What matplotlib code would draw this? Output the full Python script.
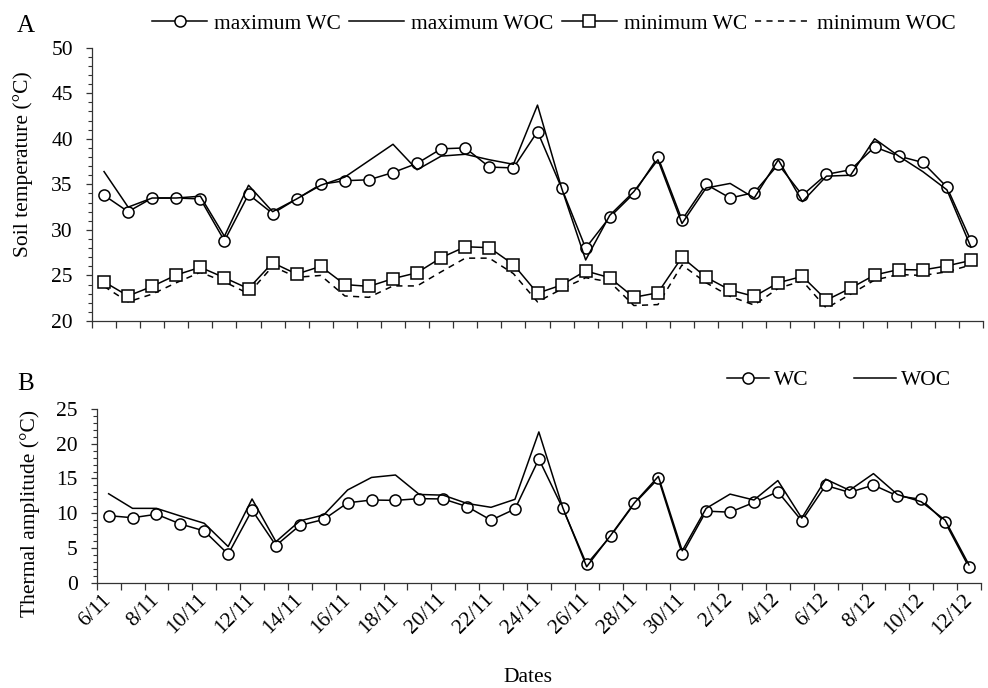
import numpy as np
import matplotlib
matplotlib.use("Agg")
import matplotlib.pyplot as plt
from matplotlib.lines import Line2D

plt.rcParams['font.family'] = ['Liberation Serif', 'DejaVu Serif']

# daily dates, 6 Nov - 12 Dec
dates = ['6/11', '7/11', '8/11', '9/11', '10/11', '11/11', '12/11', '13/11', '14/11',
         '15/11', '16/11', '17/11', '18/11', '19/11', '20/11', '21/11', '22/11', '23/11',
         '24/11', '25/11', '26/11', '27/11', '28/11', '29/11', '30/11', '1/12', '2/12',
         '3/12', '4/12', '5/12', '6/12', '7/12', '8/12', '9/12', '10/12', '11/12', '12/12']

# panel A - soil temperature (C)
max_wc = [33.8, 32.0, 33.5, 33.5, 33.4, 28.8, 33.9, 31.8, 33.4, 35.0, 35.4, 35.5, 36.3,
          37.3, 38.9, 39.0, 36.9, 36.8, 40.8, 34.6, 28.0, 31.4, 34.0, 38.0, 31.1, 35.0,
          33.5, 34.1, 37.2, 33.8, 36.1, 36.6, 39.1, 38.1, 37.4, 34.7, 28.8]
max_woc = [36.4, 32.5, 33.5, 33.5, 33.7, 29.3, 34.9, 32.0, 33.4, 34.9, 35.8, 37.6, 39.4,
           36.6, 38.1, 38.3, 37.7, 37.2, 43.7, 34.6, 26.7, 31.6, 34.2, 37.7, 30.7, 34.6,
           35.1, 33.5, 37.7, 33.1, 35.9, 36.0, 40.0, 38.1, 36.4, 34.4, 28.1]
min_wc = [24.3, 22.75, 23.8, 25.05, 25.9, 24.75, 23.55, 26.4, 25.15, 26.0, 24.0, 23.8,
          24.65, 25.3, 26.95, 28.15, 28.05, 26.2, 23.05, 23.95, 25.5, 24.75, 22.6, 23.1,
          27.0, 24.8, 23.4, 22.7, 24.2, 24.9, 22.3, 23.6, 25.05, 25.65, 25.6, 26.05, 26.65]
min_woc = [23.8, 22.1, 22.95, 24.2, 25.35, 24.3, 23.0, 26.0, 24.8, 25.0, 22.75, 22.6,
           23.85, 23.85, 25.4, 26.9, 26.9, 25.2, 22.1, 23.5, 24.75, 24.3, 21.7, 21.8,
           26.15, 24.2, 22.7, 21.75, 23.6, 24.4, 21.4, 22.95, 24.5, 25.1, 25.0, 25.4, 26.15]

# panel B - thermal amplitude (C)
amp_wc = [9.65, 9.35, 9.85, 8.45, 7.45, 4.1, 10.45, 5.35, 8.25, 9.1, 11.5, 11.9, 11.85,
          12.1, 12.05, 10.95, 9.0, 10.6, 17.8, 10.7, 2.65, 6.7, 11.4, 15.0, 4.1, 10.3,
          10.15, 11.55, 13.1, 8.9, 14.0, 13.0, 14.05, 12.5, 12.0, 8.7, 2.2]
amp_woc = [12.8, 10.7, 10.7, 9.6, 8.55, 5.2, 12.05, 5.9, 8.9, 9.75, 13.35, 15.15, 15.5,
           12.7, 12.6, 11.4, 10.85, 12.0, 21.7, 10.8, 2.3, 6.8, 11.5, 15.3, 4.6, 10.7,
           12.75, 11.9, 14.7, 9.3, 14.9, 13.3, 15.7, 12.7, 11.65, 9.0, 2.55]

W, H = 988, 688
FS = 15.5
fig = plt.figure(figsize=(W / 100, H / 100), dpi=100)

def px_axes(left, top, right, bottom):
    return fig.add_axes([left / W, 1 - bottom / H, (right - left) / W, (bottom - top) / H])

axA = px_axes(92, 47.7, 983, 321)
axB = px_axes(96.7, 409, 981, 582.7)

x = np.arange(len(dates))
circ = dict(marker='o', markersize=8, markerfacecolor='white', markeredgecolor='black',
            markeredgewidth=1.1)
sq = dict(marker='s', markersize=8, markerfacecolor='white', markeredgecolor='black',
          markeredgewidth=1.1)
lw = 1.1

axA.plot(x, max_wc, color='black', lw=lw, zorder=3, **circ)
axA.plot(x, min_wc, color='black', lw=lw, zorder=3, **sq)
axA.plot(x, max_woc, color='black', lw=lw, zorder=4)
axA.plot(x, min_woc, color='black', lw=lw, dashes=(4, 3.5), zorder=2)

axB.plot(x, amp_wc, color='black', lw=lw, zorder=3, **circ)
axB.plot(x, amp_woc, color='black', lw=lw, zorder=4)

for ax, (lo, hi) in ((axA, (20, 50)), (axB, (0, 25))):
    ax.set_xlim(-0.5, len(dates) - 0.5)
    ax.set_ylim(lo, hi)
    ax.set_yticks(np.arange(lo, hi + 1, 5))
    ax.set_yticks(np.arange(lo, hi + 1, 1), minor=True)
    ax.set_xticks(np.arange(-0.5, len(dates), 1))
    ax.set_xticklabels([])
    ax.spines['top'].set_visible(False)
    ax.spines['right'].set_visible(False)
    for s in ('left', 'bottom'):
        ax.spines[s].set_linewidth(0.9)
        ax.spines[s].set_color('#333333')
    ax.tick_params(axis='y', which='major', direction='out', length=4.3, width=0.9,
                   color='#333333', labelsize=FS, pad=9.5)
    ax.tick_params(axis='y', which='minor', direction='out', length=3, width=0.8,
                   color='#333333')
    ax.tick_params(axis='x', which='major', direction='out', length=5, width=0.9,
                   color='#333333')

# date labels every second day, rotated
axB.set_xticks(x[::2], minor=True)
axB.set_xticklabels(dates[::2], minor=True, rotation=45, ha='right', va='center',
                    rotation_mode='anchor', fontsize=FS)
axB.tick_params(axis='x', which='minor', length=0, pad=10.5)

fig.text(23 / W, 1 - 164 / H, 'Soil temperature (°C)', rotation=90, ha='center',
         va='center', fontsize=FS)
fig.text(30 / W, 1 - 513 / H, 'Thermal amplitude (°C)', rotation=90, ha='center',
         va='center', fontsize=FS)
fig.text(528 / W, 1 - 678 / H, 'Dates', ha='center', va='center', fontsize=FS)
fig.text(17 / W, 1 - 32 / H, 'A', fontsize=18)
fig.text(17 / W, 1 - 390 / H, 'B', fontsize=18)

hA = [Line2D([], [], color='black', lw=lw, **circ),
      Line2D([], [], color='black', lw=lw),
      Line2D([], [], color='black', lw=lw, **sq),
      Line2D([], [], color='black', lw=lw, dashes=(4, 3.5))]
fig.legend(hA, ['maximum WC', 'maximum WOC', 'minimum WC', 'minimum WOC'], ncol=4,
           loc='center', bbox_to_anchor=(554 / W, 1 - 24 / H), frameon=False,
           fontsize=FS, handlelength=2.55, handletextpad=0.33, columnspacing=0.37,
           borderpad=0)

hB = [Line2D([], [], color='black', lw=lw, **circ), Line2D([], [], color='black', lw=lw)]
fig.legend(hB, ['WC', 'WOC'], ncol=2, loc='center', bbox_to_anchor=(839 / W, 1 - 380 / H),
           frameon=False, fontsize=FS, handlelength=1.95, handletextpad=0.25,
           columnspacing=2.1, borderpad=0)

fig.savefig('out.png', dpi=100)
